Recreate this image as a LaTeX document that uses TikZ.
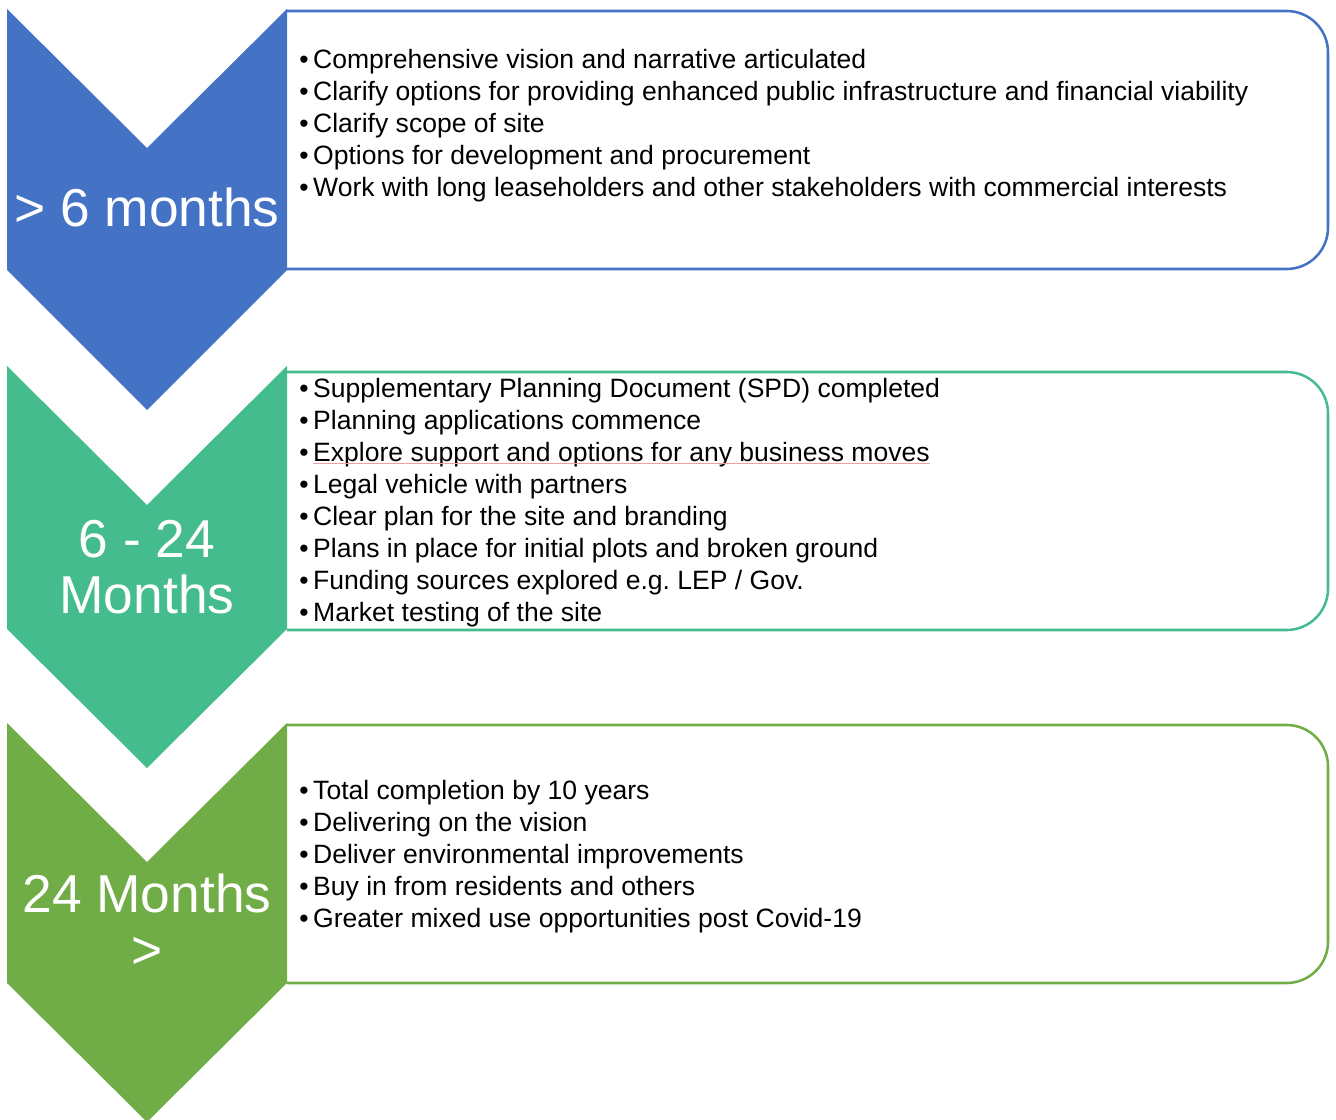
\documentclass[tikz,border=0pt]{standalone}
\usepackage{fontspec}
\setmainfont{Liberation Sans}
\frenchspacing
\definecolor{phaseBlue}{HTML}{4472C4}
\definecolor{phaseTeal}{HTML}{45BC8D}
\definecolor{phaseGreen}{HTML}{70AD47}
\definecolor{spellPink}{HTML}{F2A0A8}
\tikzstyle{phaseLabel}=[text = white, font = \fontsize{40}{42}\selectfont, align = center, inner sep = 0pt]
\tikzstyle{itemText}=[anchor = base west, inner sep = 0pt, font = \fontsize{19.9}{24}\selectfont]

\begin{document}
\begin{tikzpicture}[x = 0.75pt, y = -0.75pt]
\tikzstyle{boxStyle}=[line width = 1.9pt, rounded corners = 31pt]
\tikzstyle{spellLine}=[draw = spellPink, line width = 0.7pt]
\useasboundingbox (0,0) rectangle (1336,1120);
% outlined boxes, open on the left
\draw[boxStyle, draw = phaseBlue] (287,11) -- (1328,11) -- (1328,269) -- (287,269);
\draw[boxStyle, draw = phaseTeal] (287,372) -- (1328,372) -- (1328,630) -- (287,630);
\draw[boxStyle, draw = phaseGreen] (287,725) -- (1328,725) -- (1328,983) -- (287,983);
% chevrons
\fill[phaseBlue] (7,9) -- (147,148) -- (287,9) -- (287,270) -- (147,410) -- (7,270) -- cycle;
\fill[phaseTeal] (7,366) -- (147,505) -- (287,366) -- (287,629) -- (147,768) -- (7,629) -- cycle;
\fill[phaseGreen] (7,723) -- (147,862) -- (287,723) -- (287,983) -- (147,1122) -- (7,983) -- cycle;
% phase labels
\node[phaseLabel, anchor = base] (p1) at (147,227) {> 6 months};
\node[phaseLabel] (p2) at (147,567) {6 - 24\\Months};
\node[phaseLabel] (p3) at (147,921) {24 Months\\>};
% bullet items
\foreach \t [count = \i from 0] in {Comprehensive vision and narrative articulated,
  Clarify options for providing enhanced public infrastructure and financial viability,
  Clarify scope of site,
  Options for development and procurement,
  Work with long leaseholders and other stakeholders with commercial interests}
  \node[itemText] (a\i) at (299, 69 + 32*\i) {\textbullet\kern3.5pt\t};
\foreach \t [count = \i from 0] in {Supplementary Planning Document (SPD) completed,
  Planning applications commence,
  Explore support and options for any business moves,
  Legal vehicle with partners,
  Clear plan for the site and branding,
  Plans in place for initial plots and broken ground,
  Funding sources explored e.g. LEP / Gov.,
  Market testing of the site}
  \node[itemText] (b\i) at (299, 397 + 32.14*\i) {\textbullet\kern3.5pt\t};
\foreach \t [count = \i from 0] in {Total completion by 10 years,
  Delivering on the vision,
  Deliver environmental improvements,
  Buy in from residents and others,
  Greater mixed use opportunities post Covid-19}
  \node[itemText] (c\i) at (299, 799 + 32*\i) {\textbullet\kern3.5pt\t};
\draw[spellLine] ([xshift = 10.5pt, yshift = -1.6pt]b2.base west) -- ([yshift = -1.6pt]b2.base east);
%
\end{tikzpicture}
\end{document}
